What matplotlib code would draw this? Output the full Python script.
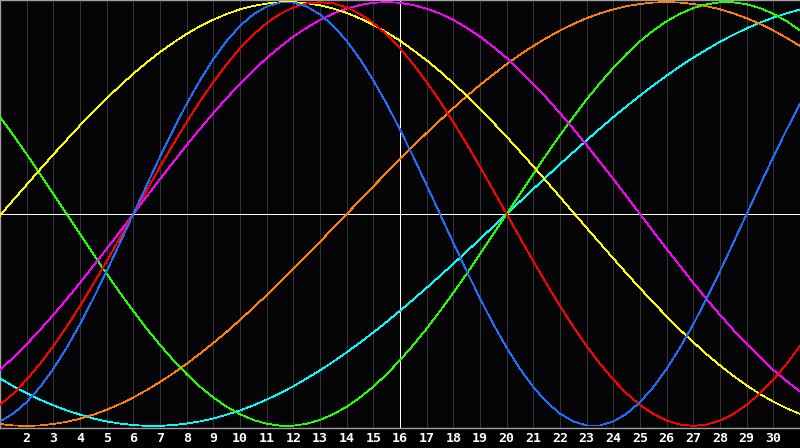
import matplotlib
matplotlib.use("Agg")
import matplotlib.pyplot as plt

# days of the month shown on the x axis
days = list(range(1, 32))
# the cycles every half day, from day 1 to day 31
sample_days = [n / 2 for n in range(2, 63)]

physical = [-0.979, -0.942, -0.888, -0.817, -0.731, -0.631, -0.520, -0.398, -0.270, -0.136,
            0.0, 0.136, 0.270, 0.398, 0.520, 0.631, 0.731, 0.817, 0.888, 0.942,
            0.979, 0.998, 0.998, 0.979, 0.942, 0.888, 0.817, 0.731, 0.631, 0.520,
            0.398, 0.270, 0.136, 0.0, -0.136, -0.270, -0.398, -0.520, -0.631, -0.731,
            -0.817, -0.888, -0.942, -0.979, -0.998, -0.998, -0.979, -0.942, -0.888, -0.817,
            -0.731, -0.631, -0.520, -0.398, -0.270, -0.136, 0.0, 0.136, 0.270, 0.398,
            0.520]
emotional = [-0.901, -0.847, -0.782, -0.707, -0.623, -0.532, -0.434, -0.330, -0.223, -0.112,
             0.0, 0.112, 0.223, 0.330, 0.434, 0.532, 0.623, 0.707, 0.782, 0.847,
             0.901, 0.944, 0.975, 0.994, 1.0, 0.994, 0.975, 0.944, 0.901, 0.847,
             0.782, 0.707, 0.623, 0.532, 0.434, 0.330, 0.223, 0.112, 0.0, -0.112,
             -0.223, -0.330, -0.434, -0.532, -0.623, -0.707, -0.782, -0.847, -0.901, -0.944,
             -0.975, -0.994, -1.0, -0.994, -0.975, -0.944, -0.901, -0.847, -0.782, -0.707,
             -0.623]
intellectual = [0.458, 0.372, 0.282, 0.189, 0.095, 0.0, -0.095, -0.189, -0.282, -0.372,
                -0.458, -0.541, -0.618, -0.690, -0.756, -0.815, -0.866, -0.910, -0.945, -0.972,
                -0.990, -0.999, -0.999, -0.990, -0.972, -0.945, -0.910, -0.866, -0.815, -0.756,
                -0.690, -0.618, -0.541, -0.458, -0.372, -0.282, -0.189, -0.095, 0.0, 0.095,
                0.189, 0.282, 0.372, 0.458, 0.541, 0.618, 0.690, 0.756, 0.815, 0.866,
                0.910, 0.945, 0.972, 0.990, 0.999, 0.999, 0.990, 0.972, 0.945, 0.910,
                0.866]
intuitive = [-0.736, -0.677, -0.614, -0.547, -0.476, -0.402, -0.325, -0.245, -0.165, -0.083,
             0.0, 0.083, 0.165, 0.245, 0.325, 0.402, 0.476, 0.547, 0.614, 0.677,
             0.736, 0.789, 0.837, 0.879, 0.916, 0.946, 0.969, 0.986, 0.997, 1.0,
             0.997, 0.986, 0.969, 0.946, 0.916, 0.879, 0.837, 0.789, 0.736, 0.677,
             0.614, 0.547, 0.476, 0.402, 0.325, 0.245, 0.165, 0.083, 0.0, -0.083,
             -0.165, -0.245, -0.325, -0.402, -0.476, -0.547, -0.614, -0.677, -0.736, -0.789,
             -0.837]
aesthetic = [-0.007, 0.066, 0.138, 0.210, 0.281, 0.350, 0.418, 0.483, 0.546, 0.605,
             0.662, 0.715, 0.764, 0.809, 0.850, 0.886, 0.917, 0.944, 0.966, 0.982,
             0.993, 0.999, 1.0, 0.995, 0.985, 0.969, 0.949, 0.923, 0.893, 0.857,
             0.818, 0.773, 0.725, 0.673, 0.617, 0.558, 0.496, 0.431, 0.364, 0.295,
             0.225, 0.153, 0.080, 0.007, -0.066, -0.138, -0.210, -0.281, -0.350, -0.418,
             -0.483, -0.546, -0.605, -0.662, -0.715, -0.764, -0.809, -0.850, -0.886, -0.917,
             -0.944]
awareness = [-0.991, -0.998, -1.0, -0.998, -0.991, -0.981, -0.966, -0.947, -0.924, -0.897,
             -0.866, -0.831, -0.793, -0.752, -0.707, -0.659, -0.609, -0.556, -0.5, -0.442,
             -0.383, -0.321, -0.259, -0.195, -0.131, -0.065, 0.0, 0.065, 0.131, 0.195,
             0.259, 0.321, 0.383, 0.442, 0.5, 0.556, 0.609, 0.659, 0.707, 0.752,
             0.793, 0.831, 0.866, 0.897, 0.924, 0.947, 0.966, 0.981, 0.991, 0.998,
             1.0, 0.998, 0.991, 0.981, 0.966, 0.947, 0.924, 0.897, 0.866, 0.831,
             0.793]
spiritual = [-0.776, -0.813, -0.846, -0.876, -0.903, -0.927, -0.947, -0.965, -0.979, -0.989,
             -0.996, -1.0, -1.0, -0.996, -0.989, -0.979, -0.965, -0.947, -0.927, -0.903,
             -0.876, -0.846, -0.813, -0.776, -0.738, -0.697, -0.653, -0.607, -0.559, -0.509,
             -0.457, -0.403, -0.348, -0.292, -0.235, -0.177, -0.118, -0.059, 0.0, 0.059,
             0.118, 0.177, 0.235, 0.292, 0.348, 0.403, 0.457, 0.509, 0.559, 0.607,
             0.653, 0.697, 0.738, 0.776, 0.813, 0.846, 0.876, 0.903, 0.927, 0.947,
             0.965]

today = 16
tick_labels = [str(d) for d in days[1:-1]]

series = [
    (spiritual, "#00ffff"),
    (awareness, "#ff8000"),
    (intellectual, "#22ff00"),
    (intuitive, "#ff00ff"),
    (aesthetic, "#ffff00"),
    (emotional, "#ff0000"),
    (physical, "#1f6fff"),
]

fig = plt.figure(figsize=(8, 4.48), dpi=100, facecolor="#000000")
ax = fig.add_axes([0, 20 / 448, 1, 428 / 448])
ax.set_facecolor("#050508")

# day grid
for d in days[1:-1]:
    ax.axvline(d, color="#333333", lw=0.72, antialiased=False, zorder=1)

ax.axhline(0, color="white", lw=0.72, antialiased=False, zorder=2)
ax.axvline(today, color="white", lw=0.72, antialiased=False, zorder=2)

for values, color in series:
    ax.plot(sample_days, values, color=color, lw=0.55, antialiased=False, zorder=3)

ax.set_xlim(1, 31)
ax.set_ylim(-1.01, 1.01)
ax.set_yticks([])
ax.set_xticks(days[1:-1])
ax.set_xticklabels(tick_labels, color="white", fontweight="bold",
                   family="DejaVu Sans Mono", fontsize=9.5)
ax.tick_params(axis="x", length=0, pad=3)

for side in ("top", "left", "bottom"):
    ax.spines[side].set_color("#a0a0a0")
    ax.spines[side].set_linewidth(1.0)
ax.spines["right"].set_visible(False)

fig.savefig("out.png", dpi=100, facecolor=fig.get_facecolor())
